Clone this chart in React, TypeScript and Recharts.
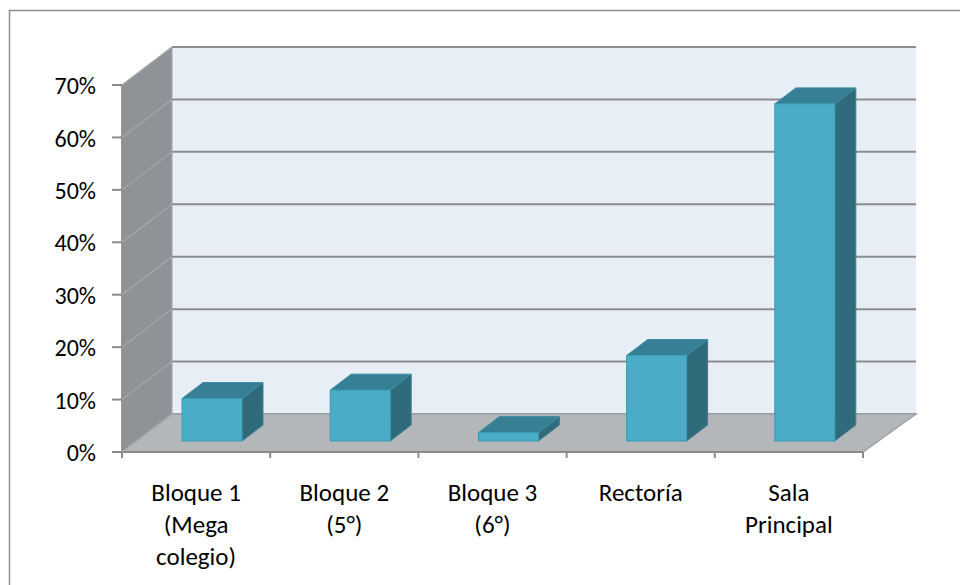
import React from 'react';
import { BarChart, Bar, XAxis, YAxis, CartesianGrid } from 'recharts';

// Locations (line breaks mark the wrapped axis labels)
const categories = ['Bloque 1\n(Mega\ncolegio)', 'Bloque 2\n(5°)', 'Bloque 3\n(6°)', 'Rectoría', 'Sala\nPrincipal'];
// Share of answers per location
const shares = [0.081, 0.097, 0.016, 0.163, 0.643];
// Value axis ticks
const yTicks = [0, 0.1, 0.2, 0.3, 0.4, 0.5, 0.6, 0.7];

const data = categories.map((name, i) => ({ name, value: shares[i] }));

// Layout
const W = 960;
const H = 585;
const MARGIN = { top: 85, right: 97, bottom: 0, left: 0 };
const Y_AXIS_W = 122;
const X_AXIS_H = 133;
const PL = MARGIN.left + Y_AXIS_W; // front plane left
const PR = W - MARGIN.right; // front plane right
const PT = MARGIN.top; // front plane top
const PB = H - MARGIN.bottom - X_AXIS_H; // front plane bottom
const DX = 50; // wall depth (oblique projection)
const DY = 38;
const BACK_EXTRA = 3; // back wall slightly wider (perspective)

// Bar placement inside the depth
const SHIFT_X = 16;
const SHIFT_Y = 11;
const BD_X = 21;
const BD_Y = 16;

const FONT = 'Carlito, Lato, "Open Sans", sans-serif';
const TEXT_SIZE = 24;
const CAT_SIZE = 25;
const AXIS_GREY = '#8A8A8A';

const Walls = () => (
  <g>
    {/* outer frame */}
    <line x1={9} y1={10.5} x2={W} y2={10.5} stroke="#8E8E8E" strokeWidth={1.5} />
    <line x1={9.5} y1={10} x2={9.5} y2={H} stroke="#8E8E8E" strokeWidth={1.5} />
    {/* side wall */}
    <polygon
      points={`${PL},${PT} ${PL + DX},${PT - DY} ${PL + DX},${PB - DY} ${PL},${PB}`}
      fill="#8F9296"
      stroke="#A2A4A7"
      strokeWidth={1}
    />
    {/* floor */}
    <polygon
      points={`${PL},${PB} ${PR},${PB} ${PR + DX + BACK_EXTRA},${PB - DY} ${PL + DX},${PB - DY}`}
      fill="#B3B7BA"
      stroke="#A0A3A6"
      strokeWidth={1.5}
    />
  </g>
);

const Bar3D = (p: any) => {
  const { x, y, width, height } = p;
  if (x == null || width == null) return null;
  const h = Math.max(height || 0, 0);
  const fx = x + SHIFT_X;
  const fy = y - SHIFT_Y;
  const top = `${fx},${fy} ${fx + width},${fy} ${fx + width + BD_X},${fy - BD_Y} ${fx + BD_X},${fy - BD_Y}`;
  const side = `${fx + width},${fy} ${fx + width + BD_X},${fy - BD_Y} ${fx + width + BD_X},${fy + h - BD_Y} ${fx + width},${fy + h}`;
  return (
    <g>
      <polygon points={side} fill="#2F6B7B" stroke="#3A8195" strokeWidth={1} strokeLinejoin="round" />
      <polygon points={top} fill="#377F94" stroke="#3E8CA2" strokeWidth={1} strokeLinejoin="round" />
      <rect x={fx} y={fy} width={width} height={h} fill="#4AACC6" stroke="#3C9CB5" strokeWidth={1} />
    </g>
  );
};

const YTick = (p: any) => {
  const { x, y, payload } = p;
  return (
    <g>
      <line x1={x} y1={y} x2={x + DX} y2={y - DY} stroke="#A6A8AB" strokeWidth={1.2} />
      <line x1={x - 10} y1={y} x2={x} y2={y} stroke={AXIS_GREY} strokeWidth={2} />
      <text
        x={x - 26}
        y={y}
        dy="0.38em"
        textAnchor="end"
        fontFamily={FONT}
        fontSize={TEXT_SIZE}
        fill="#000"
      >
        {`${Math.round(payload.value * 100)}%`}
      </text>
    </g>
  );
};

const XTick = (p: any) => {
  const { x, y, payload, index } = p;
  const half = payload && typeof payload.offset === 'number' && payload.offset > 0 ? payload.offset : (PR - PL) / categories.length / 2;
  const lines = String(payload.value).split('\n');
  return (
    <g>
      <line x1={x - half} y1={y} x2={x - half} y2={y + 6} stroke={AXIS_GREY} strokeWidth={2} />
      {index === categories.length - 1 && (
        <line x1={x + half} y1={y} x2={x + half} y2={y + 6} stroke={AXIS_GREY} strokeWidth={2} />
      )}
      <text x={x} y={y + 49} textAnchor="middle" fontFamily={FONT} fontSize={CAT_SIZE} fill="#000">
        {lines.map((l, i) => (
          <tspan key={i} x={x} dy={i === 0 ? 0 : 32}>
            {l}
          </tspan>
        ))}
      </text>
    </g>
  );
};

const backGrid = (props: any) => {
  const s = props && props.yAxis && props.yAxis.scale;
  return yTicks.map((t) => {
    const v = typeof s === 'function' ? s(t) : PB - ((PB - PT) * t) / yTicks[yTicks.length - 1];
    return v - DY;
  });
};

export default function App() {
  return (
    <div style={{ position: 'absolute', left: 0, top: 0, width: W, height: H, background: '#fff' }}>
      <BarChart width={W} height={H} data={data} margin={MARGIN} barSize={60}>
        <Walls />
        <CartesianGrid
          x={PL + DX}
          y={PT - DY}
          width={PR - PL + BACK_EXTRA}
          height={PB - PT}
          vertical={false}
          fill="#E8EEF6"
          fillOpacity={1}
          stroke="#8C8C8C"
          strokeWidth={2}
          horizontalCoordinatesGenerator={backGrid}
        />
        <XAxis
          dataKey="name"
          type="category"
          height={X_AXIS_H}
          interval={0}
          tickSize={0}
          tickMargin={0}
          tickLine={false}
          axisLine={{ stroke: AXIS_GREY, strokeWidth: 2 }}
          tick={<XTick />}
        />
        <YAxis
          width={Y_AXIS_W}
          domain={[0, 0.7]}
          ticks={yTicks}
          interval={0}
          tickSize={0}
          tickMargin={0}
          tickLine={false}
          axisLine={{ stroke: '#888A8D', strokeWidth: 1.5 }}
          tick={<YTick />}
        />
        <Bar dataKey="value" isAnimationActive={false} shape={<Bar3D />} />
      </BarChart>
    </div>
  );
}
